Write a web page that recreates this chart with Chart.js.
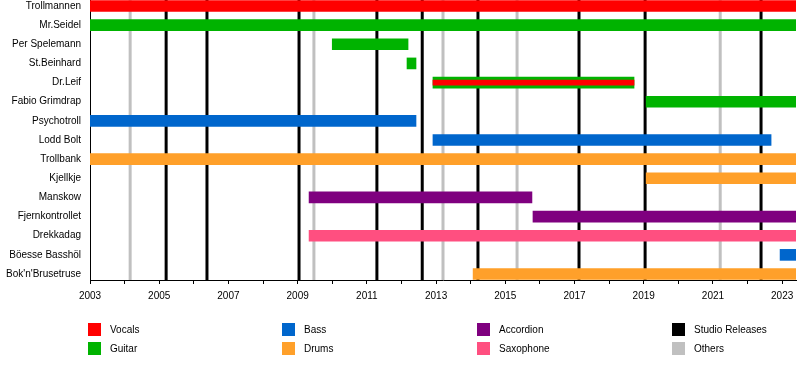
<!DOCTYPE html>
<html>
<head>
<meta charset="utf-8">
<script src="https://cdn.jsdelivr.net/npm/chart.js@4.4.1/dist/chart.umd.min.js"></script>
<style>
  body { margin: 0; background: #fff; }
  #wrap { position: relative; width: 800px; height: 380px; font-family: 'Liberation Sans', Arial, sans-serif; }
  #timeline { position: absolute; left: 0; top: 0; }
  .item { position: absolute; font-size: 10px; line-height: 13px; color: #000; }
  .item .box { position: absolute; left: 0; top: 0; width: 13px; height: 13px; }
  .item .txt { position: absolute; left: 22px; top: 0; white-space: nowrap; }
</style>
</head>
<body>
<div id="wrap">
  <canvas id="timeline" width="800" height="380"></canvas>
  <div id="legend"></div>
</div>
<script>
const dateEnd = 2023.4

const members = ['Trollmannen', 'Mr.Seidel', 'Per Spelemann', 'St.Beinhard', 'Dr.Leif', 'Fabio Grimdrap',
  'Psychotroll', 'Lodd Bolt', 'Trollbank', 'Kjellkje', 'Manskow', 'Fjernkontrollet', 'Drekkadag',
  'Böesse Basshöl', "Bok'n'Brusetruse"]
const memberRole = ['Vocals', 'Guitar', 'Guitar', 'Guitar', 'Guitar', 'Guitar',
  'Bass', 'Bass', 'Drums', 'Drums', 'Accordion', 'Accordion', 'Saxophone',
  'Bass', 'Drums']
const startYear = [2003, 2003, 2010.0, 2012.16, 2012.91, 2019.07,
  2003, 2012.91, 2003, 2019.07, 2009.33, 2015.8, 2009.33,
  2022.94, 2014.07]
const endYear = [dateEnd, dateEnd, 2012.19, 2012.42, 2018.72, dateEnd,
  2012.42, 2022.68, dateEnd, dateEnd, 2015.77, dateEnd, dateEnd,
  dateEnd, dateEnd]

// Dr.Leif also sang (thin red stripe)
const extraVocals = [{ member: 'Dr.Leif', from: 2012.91, to: 2018.72 }]

const studioReleases = [2005.2, 2006.38, 2009.04, 2011.29, 2012.6, 2014.21, 2017.13, 2019.04, 2022.39]
const otherReleases = [2004.16, 2009.47, 2013.2, 2015.34, 2021.21]

const yearLabels = ['2003', '2005', '2007', '2009', '2011', '2013', '2015', '2017', '2019', '2021', '2023']

const roles = ['Vocals', 'Guitar', 'Bass', 'Drums', 'Accordion', 'Saxophone']
const roleColors = ['#ff0000', '#00b300', '#0066cc', '#ffa02a', '#7f007f', '#ff4f80']
const releaseColors = { studio: '#000000', other: '#c0c0c0' }

const datasets = roles.map((role, r) => ({
  label: role,
  backgroundColor: roleColors[r],
  barThickness: 11,
  data: members
    .map((m, i) => ({ x: [startYear[i], endYear[i]], y: i, role: memberRole[i] }))
    .filter(d => d.role === role)
}))

datasets.push({
  label: 'Vocals (extra)',
  backgroundColor: roleColors[0],
  barThickness: 5,
  order: -1,
  data: extraVocals.map(v => ({ x: [v.from, v.to], y: members.indexOf(v.member) }))
})

// release lines behind the bars
const releaseLines = {
  id: 'releaseLines',
  beforeDatasetsDraw(chart) {
    const { ctx, chartArea, scales } = chart
    const draw = (years, color) => {
      ctx.save()
      ctx.strokeStyle = color
      ctx.lineWidth = 3
      years.forEach(y => {
        const px = scales.x.getPixelForValue(y)
        ctx.beginPath()
        ctx.moveTo(px, chartArea.top)
        ctx.lineTo(px, chartArea.bottom)
        ctx.stroke()
      })
      ctx.restore()
    }
    draw(otherReleases, releaseColors.other)
    draw(studioReleases, releaseColors.studio)
  }
}

const font = { family: "'Liberation Sans', Arial, sans-serif", size: 10 }

new Chart(document.getElementById('timeline'), {
  type: 'bar',
  data: { datasets },
  plugins: [releaseLines],
  options: {
    indexAxis: 'y',
    responsive: false,
    animation: false,
    devicePixelRatio: 1,
    layout: { padding: { left: 0, right: 4, top: 0, bottom: 80 } },
    datasets: { bar: { grouped: false, borderWidth: 0 } },
    plugins: { legend: { display: false }, tooltip: { enabled: false } },
    scales: {
      x: {
        type: 'linear',
        min: 2003,
        max: dateEnd,
        grid: { drawOnChartArea: false, drawTicks: true, tickLength: 4, color: '#000' },
        border: { color: '#000', width: 1 },
        ticks: {
          color: '#000', font, padding: 6, autoSkip: false, maxRotation: 0,
          callback: v => yearLabels.includes(String(v)) ? String(v) : ''
        },
        afterBuildTicks: axis => {
          const t = []
          for (let y = 2003; y <= 2023; y++) t.push({ value: y })
          axis.ticks = t
        },
        afterFit: s => { s.height = 20; s.paddingLeft = 0; s.paddingRight = 0 }
      },
      y: {
        type: 'linear',
        reverse: true,
        offset: false,
        min: -0.313,
        max: 14.313,
        grid: { display: true, offset: false, drawOnChartArea: false, drawTicks: false },
        border: { color: '#000', width: 1 },
        ticks: { color: '#000', font, padding: 9, autoSkip: false, callback: v => members[v] },
        afterBuildTicks: axis => { axis.ticks = members.map((m, i) => ({ value: i })) },
        afterFit: s => { s.width = 90; s.paddingTop = 0; s.paddingBottom = 0 }
      }
    }
  }
})

// legend, laid out in columns like the original
const legendItems = [
  ['Vocals', roleColors[0]], ['Guitar', roleColors[1]],
  ['Bass', roleColors[2]], ['Drums', roleColors[3]],
  ['Accordion', roleColors[4]], ['Saxophone', roleColors[5]],
  ['Studio Releases', releaseColors.studio], ['Others', releaseColors.other]
]
const colX = [88, 282, 477, 672]
const rowY = [323, 342]
const legend = document.getElementById('legend')
legendItems.forEach(([name, color], k) => {
  const el = document.createElement('div')
  el.className = 'item'
  el.style.left = colX[Math.floor(k / 2)] + 'px'
  el.style.top = rowY[k % 2] + 'px'
  el.innerHTML = '<div class="box" style="background:' + color + '"></div><div class="txt">' + name + '</div>'
  legend.appendChild(el)
})
</script>
</body>
</html>
